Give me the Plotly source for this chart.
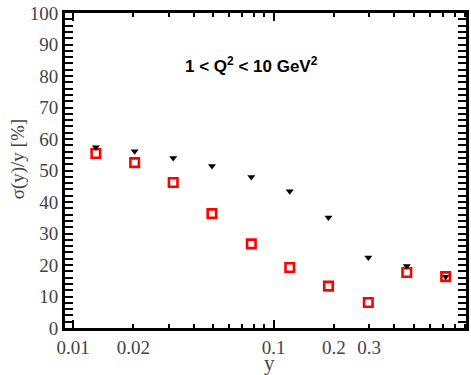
import plotly.graph_objects as go

y_bins = [0.0130, 0.0203, 0.0316, 0.0493, 0.0775, 0.1205, 0.188, 0.297, 0.462, 0.722]
err_red = [55.4, 52.5, 46.2, 36.3, 26.7, 19.2, 13.3, 8.1, 17.6, 16.3]
err_black = [57.4, 56.1, 54.0, 51.4, 47.9, 43.4, 35.1, 22.4, 19.7, 16.3]

x_tickvals = [0.01, 0.02, 0.1, 0.2, 0.3]
x_ticktext = ["0.01", "0.02", "0.1", "0.2", "0.3"]
x_minor = [0.03, 0.04, 0.05, 0.06, 0.07, 0.08, 0.09, 0.4, 0.5, 0.6, 0.7, 0.8, 0.9]
x_decades = [0.01, 0.1]

xr = [-2.04, -0.04]
serif = "Liberation Serif, Times New Roman, serif"

fig = go.Figure()
fig.add_trace(go.Scatter(
    x=y_bins, y=err_red, mode="markers",
    marker=dict(symbol="square-open", size=8.5, color="#ff0000", line=dict(width=2.6, color="#ff0000")),
    showlegend=False))
fig.add_trace(go.Scatter(
    x=y_bins, y=err_black, mode="markers",
    marker=dict(symbol="triangle-down", size=7, color="black"),
    showlegend=False))
# invisible trace for decade-tick axis
fig.add_trace(go.Scatter(x=[0.01], y=[0], xaxis="x2", mode="markers",
                         marker=dict(opacity=0), showlegend=False, hoverinfo="skip"))

fig.update_layout(
    width=471, height=375,
    margin=dict(l=65, r=5, t=13, b=47),
    plot_bgcolor="white", paper_bgcolor="white",
    xaxis=dict(
        type="log", range=xr, automargin=False,
        tickvals=x_tickvals, ticktext=x_ticktext,
        ticks="inside", ticklen=4, tickwidth=2, tickcolor="black",
        minor=dict(tickvals=x_minor, ticks="inside", ticklen=4, tickwidth=2, tickcolor="black"),
        showline=True, linewidth=3, linecolor="black", mirror="allticks",
        showgrid=False, zeroline=False,
        tickfont=dict(family=serif, size=19, color="#444"),
    ),
    xaxis2=dict(
        type="log", range=xr, overlaying="x", anchor="y", automargin=False,
        tickvals=x_decades, showticklabels=False,
        ticks="inside", ticklen=8, tickwidth=2, tickcolor="black",
        mirror="allticks", showline=False, showgrid=False, zeroline=False,
    ),
    yaxis=dict(
        range=[0, 100], tickvals=[0, 10, 20, 30, 40, 50, 60, 70, 80, 90, 100],
        automargin=False,
        ticks="inside", ticklen=8, tickwidth=2, tickcolor="black",
        minor=dict(dtick=2, ticks="inside", ticklen=4, tickwidth=2, tickcolor="black"),
        showline=True, linewidth=3, linecolor="black", mirror="allticks",
        showgrid=False, zeroline=False,
        tickfont=dict(family=serif, size=19, color="#444"),
    ),
    annotations=[
        dict(text="<b>1 < Q<sup>2</sup> < 10 GeV<sup>2</sup></b>",
             xref="paper", yref="paper", x=0.465, y=0.875, showarrow=False,
             font=dict(family="Liberation Sans, Arial, sans-serif", size=17, color="black")),
        dict(text="σ(y)/y [%]", textangle=-90,
             xref="paper", yref="paper", x=-0.115, y=0.535, xanchor="center", yanchor="middle",
             showarrow=False, font=dict(family=serif, size=19, color="#444")),
        dict(text="y", xref="paper", yref="paper", x=0.51, y=-0.068,
             xanchor="center", yanchor="top", showarrow=False,
             font=dict(family=serif, size=21, color="#444")),
    ],
)

fig.write_html("out.html")
